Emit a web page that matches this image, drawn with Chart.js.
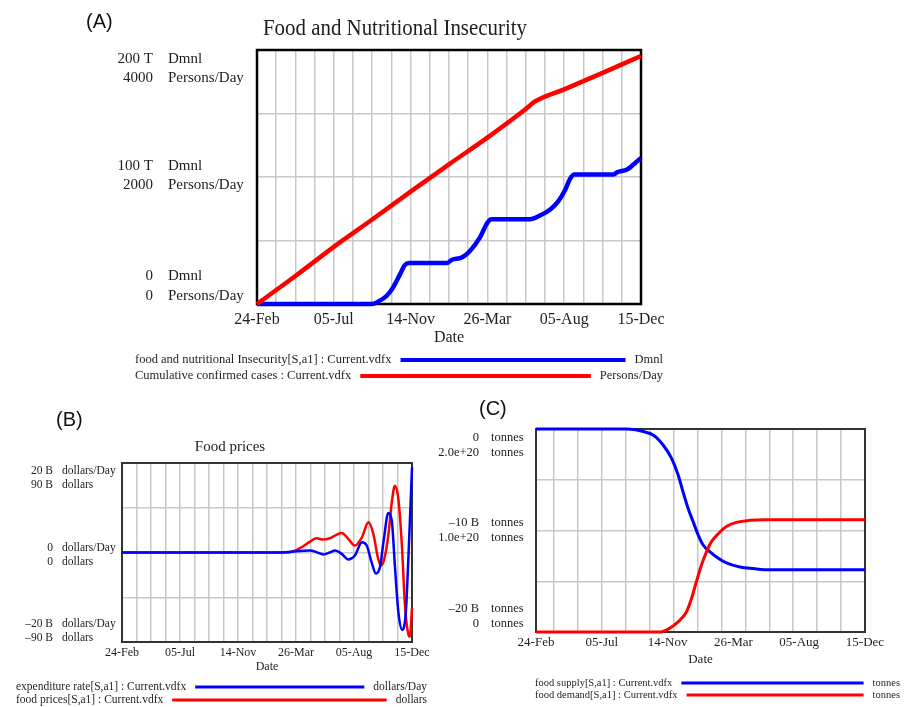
<!DOCTYPE html>
<html><head><meta charset="utf-8">
<script src="https://cdn.jsdelivr.net/npm/chart.js@4.4.1/dist/chart.umd.min.js"></script>
<style>
html,body{margin:0;padding:0;background:#fff;}
body{width:904px;height:707px;position:relative;overflow:hidden;}
canvas{position:absolute;}
.lbl{position:absolute;font-family:"Liberation Sans",Arial,sans-serif;font-size:20px;line-height:20px;color:#111;}
</style></head><body>
<canvas id="cA" width="904" height="395" style="left:0;top:0"></canvas>
<canvas id="cB" width="450" height="312" style="left:0;top:395px"></canvas>
<canvas id="cC" width="474" height="312" style="left:430px;top:395px"></canvas>
<div class="lbl" style="left:86px;top:11px">(A)</div>
<div class="lbl" style="left:56px;top:409px">(B)</div>
<div class="lbl" style="left:479px;top:398px">(C)</div>
<script>
const SERIF = '"Liberation Serif","Times New Roman",serif';

// ---- shared x axis (days after 24-Feb) ----
const xLabelDays = [0, 132, 264, 396, 528, 660];
const xLabelText = ['24-Feb', '05-Jul', '14-Nov', '26-Mar', '05-Aug', '15-Dec'];

// ---- Panel A: Food and Nutritional Insecurity ----
const aGridDays = [0,33,66,99,132,165,198,231,264,297,330,363,396,429,462,495,528,561,594,627,660];
const aInsecLabel = 'food and nutritional Insecurity[S,a1] : Current.vdfx';
const aInsecUnit = 'Dmnl';
const aInsecDays = [0,197,208,223,234,246,254,262,326,335,352,366,383,396,403,469,487,504,518,530,538,545,613,619,636,647,660];
const aInsecT = [0,0,1.8,6.5,13.1,23.5,30.6,32.2,32.2,34.8,36.6,41.8,52.3,64,66.7,66.7,69.8,74.5,81,90.2,98.5,102,102,103.8,105.9,109.8,115];
const aCasesLabel = 'Cumulative confirmed cases : Current.vdfx';
const aCasesUnit = 'Persons/Day';
const aCasesDays = [0,66,132,198,264,330,396,462,478,528,594,660];
const aCasesValues = [0,440,900,1330,1770,2200,2620,3070,3190,3380,3640,3906];
const aInsecTicks = [200,100,0];
const aCasesTicks = [4000,2000,0];
const aGridInsec = [0,50,100,150,200];

// ---- Panel B: Food prices ----
const bGridDays = [0,33,66,99,132,165,198,231,264,297,330,363,396,429,462,495,528,561,594,627,660];
const bExpLabel = 'expenditure rate[S,a1] : Current.vdfx';
const bExpUnit = 'dollars/Day';
const bExpDays = [0,362,380,397,428,443,458,473,485,500,515,530,546,557,568,578,587,596,606,614,621,629,638,646,652,660];
const bExpBillions = [0,0,0.1,0.3,0.44,0.07,-0.44,0,0.44,-0.3,-1.55,-0.67,2.3,1.55,-2.15,-4.7,-3.3,3.0,8.8,7.1,-2.9,-13.3,-17.3,-13.3,-0.7,19.0];
const bPriceLabel = 'food prices[S,a1] : Current.vdfx';
const bPriceUnit = 'dollars';
const bPriceDays = [0,362,382,409,428,443,458,473,500,515,530,546,561,572,583,589,596,606,614,621,629,637,644,652,655,660];
const bPriceBillions = [0,0,0.3,5.3,11,14.3,13,14.3,19.7,13.7,7,15.3,30.3,18.7,-6.3,-13,-8,17,50.3,67,53.7,7,-53,-83,-84.7,-56];
const bExpTicks = [20,0,-20];
const bPriceTicks = [90,0,-90];
const bGridExp = [-20,-10,0,10,20];

// ---- Panel C: food supply / demand ----
const cGridDays = [0,36,84,132,180,228,276,324,372,420,468,516,564,612,660];
const cSupplyLabel = 'food supply[S,a1] : Current.vdfx';
const cSupplyUnit = 'tonnes';
const cSupplyDays = [0,180,200,215,235,255,272,285,295,305,315,325,335,349,365,382,409,436,470,660];
const cSupplyBillions = [0,0,-0.08,-0.25,-0.59,-1.58,-2.9,-4.5,-6.2,-7.8,-9.1,-10.4,-11.4,-12.1,-12.7,-13.2,-13.6,-13.75,-13.87,-13.87];
const cDemandLabel = 'food demand[S,a1] : Current.vdfx';
const cDemandUnit = 'tonnes';
const cDemandDays = [0,250,269,285,302,312,322,332,342,352,366,382,402,429,460,660];
const cDemandE20 = [0,0,0.04,0.1,0.2,0.33,0.5,0.66,0.79,0.89,0.97,1.04,1.08,1.10,1.105,1.105];
const cSupplyTicks = [0,-10,-20];
const cDemandTicks = [2,1,0];
const cGridSupply = [-20,-15,-10,-5,0];

const BLUE = '#0000ff', RED = '#ff0000', TXT = '#1e1e1e';

function signed(v){ return v < 0 ? '\u2013' + (-v) : String(v); }

const PANEL = {
  cA: {
    frameColor:'#000', frameWidth:2.5,
    title:{text:'Food and Nutritional Insecurity', x:395, y:29, font:'23px '+SERIF, maxWidth:264},
    y:{ticks1:aInsecTicks, ticks2:aCasesTicks, fmt1:v=>v===0?'0':v+' T', fmt2:v=>String(v),
       unit1:aInsecUnit, unit2:aCasesUnit, numRight:153, unitLeft:168, font:'15px '+SERIF,
       spacing:19.5, topOff:9, midOff:-11, botOff:8},
    legend:{rows:[360,376], units:[aInsecUnit,aCasesUnit], textLeft:135, unitRight:663, font:'12.5px '+SERIF, gap:9, lineWidth:4}
  },
  cB: {
    frameColor:'#333', frameWidth:2,
    title:{text:'Food prices', x:230, y:52, font:'15px '+SERIF, maxWidth:200},
    y:{ticks1:bExpTicks, ticks2:bPriceTicks, fmt1:v=>v===0?'0':signed(v)+' B', fmt2:v=>v===0?'0':signed(v)+' B',
       unit1:bExpUnit, unit2:bPriceUnit, numRight:53, unitLeft:62, font:'11.5px '+SERIF,
       spacing:14, topOff:8, midOff:-5, botOff:4},
    legend:{rows:[292,305], units:[bExpUnit,bPriceUnit], textLeft:16, unitRight:427, font:'11.5px '+SERIF, gap:9, lineWidth:3}
  },
  cC: {
    frameColor:'#333', frameWidth:2,
    title:null,
    y:{ticks1:cSupplyTicks, ticks2:cDemandTicks, fmt1:v=>v===0?'0':signed(v)+' B', fmt2:v=>v===0?'0':v.toFixed(1)+'e+20',
       unit1:cSupplyUnit, unit2:cDemandUnit, numRight:49, unitLeft:61, font:'12.5px '+SERIF,
       spacing:15, topOff:9, midOff:-7.5, botOff:8},
    legend:{rows:[288,300], units:[cSupplyUnit,cDemandUnit], textLeft:105, unitRight:470, font:'10.5px '+SERIF, gap:9, lineWidth:3}
  }
};

const vensimPlugin = {
  id:'vensim',
  beforeDatasetsDraw(chart){
    const P = PANEL[chart.canvas.id], a = chart.chartArea, c = chart.ctx;
    c.save(); c.strokeStyle = P.frameColor; c.lineWidth = P.frameWidth;
    c.strokeRect(a.left, a.top, a.right-a.left, a.bottom-a.top); c.restore();
  },
  afterDraw(chart){
    const P = PANEL[chart.canvas.id], c = chart.ctx;
    c.save(); c.fillStyle = TXT; c.textBaseline = 'middle';
    if (P.title){ c.font = P.title.font; c.textAlign = 'center'; c.fillText(P.title.text, P.title.x, P.title.y, P.title.maxWidth); }
    const L = P.y, s1 = chart.scales.y;
    c.font = L.font;
    L.ticks1.forEach((v,i)=>{
      const p = s1.getPixelForValue(v);
      let y1;
      if (v === s1.max) y1 = p + L.topOff;
      else if (v === s1.min) y1 = p - L.botOff - L.spacing;
      else y1 = p + L.midOff;
      const y2 = y1 + L.spacing;
      c.textAlign = 'right';
      c.fillText(L.fmt1(v), L.numRight, y1);
      c.fillText(L.fmt2(L.ticks2[i]), L.numRight, y2);
      c.textAlign = 'left';
      c.fillText(L.unit1, L.unitLeft, y1);
      c.fillText(L.unit2, L.unitLeft, y2);
    });
    const G = P.legend;
    c.font = G.font;
    chart.data.datasets.forEach((d,i)=>{
      const y = G.rows[i];
      c.textAlign = 'left'; c.fillText(d.label, G.textLeft, y);
      const tw = c.measureText(d.label).width;
      c.textAlign = 'right'; c.fillText(G.units[i], G.unitRight, y);
      const uw = c.measureText(G.units[i]).width;
      c.strokeStyle = d.borderColor; c.lineWidth = G.lineWidth;
      c.beginPath(); c.moveTo(G.textLeft + tw + G.gap, y); c.lineTo(G.unitRight - uw - G.gap, y); c.stroke();
    });
    c.restore();
  }
};

function series(label, days, values, color, axis, width, order){
  return {label, data: days.map((x,i)=>({x, y: values[i]})), yAxisID: axis,
    borderColor: color, backgroundColor: color, borderWidth: width, pointRadius: 0,
    fill: false, cubicInterpolationMode: 'monotone', clip: 8, order};
}

function makeChart(id, o){
  const xTicks = Array.from(new Set(o.gridDays.concat(xLabelDays))).sort((a,b)=>a-b);
  return new Chart(document.getElementById(id), {
    type:'line',
    data:{datasets:o.datasets},
    options:{
      responsive:false, animation:false, events:[], devicePixelRatio:1,
      layout:{padding:o.padding},
      plugins:{legend:{display:false}, title:{display:false}, tooltip:{enabled:false}},
      scales:{
        x:{type:'linear', min:0, max:660, position:'bottom',
           afterBuildTicks:s=>{ s.ticks = xTicks.map(v=>({value:v})); },
           afterFit:s=>{ s.height = o.xAxisHeight; },
           grid:{color:c=> (c.tick && o.gridDays.includes(c.tick.value)) ? '#c8c8c8' : 'rgba(0,0,0,0)', lineWidth:1.5, drawTicks:false},
           border:{display:false},
           ticks:{autoSkip:false, maxRotation:0, padding:o.xTickPad, color:TXT, font:{family:SERIF, size:o.xFont},
                  callback:v=>{ const k = xLabelDays.indexOf(v); return k>=0 ? xLabelText[k] : ''; }},
           title:{display:true, text:'Date', color:TXT, font:{family:SERIF, size:o.xFont}, padding:{top:0, bottom:o.datePad}}},
        y:{type:'linear', min:o.y1min, max:o.y1max, position:'left',
           afterBuildTicks:s=>{ s.ticks = o.gridY.map(v=>({value:v})); },
           afterFit:s=>{ s.width = o.yAxisWidth; },
           grid:{color:'#c8c8c8', lineWidth:1.5, drawTicks:false},
           border:{display:false}, ticks:{display:false}},
        y2:{type:'linear', min:o.y2min, max:o.y2max, display:false}
      }
    },
    plugins:[vensimPlugin]
  });
}

makeChart('cA', {
  gridDays:aGridDays, gridY:aGridInsec, y1min:0, y1max:200, y2min:0, y2max:4000,
  padding:{left:0, right:263, top:50, bottom:46}, yAxisWidth:257, xAxisHeight:45,
  xTickPad:6, xFont:16, datePad:2,
  datasets:[ series(aInsecLabel, aInsecDays, aInsecT, BLUE, 'y', 4.5, 1),
             series(aCasesLabel, aCasesDays, aCasesValues, RED, 'y2', 4.5, 0) ]
});

makeChart('cB', {
  gridDays:bGridDays, gridY:bGridExp, y1min:-20, y1max:20, y2min:-90, y2max:90,
  padding:{left:0, right:38, top:68, bottom:33}, yAxisWidth:122, xAxisHeight:32,
  xTickPad:4, xFont:12, datePad:0,
  datasets:[ series(bExpLabel, bExpDays, bExpBillions, BLUE, 'y', 2.5, 0),
             series(bPriceLabel, bPriceDays, bPriceBillions, RED, 'y2', 2.5, 1) ]
});

makeChart('cC', {
  gridDays:cGridDays, gridY:cGridSupply, y1min:-20, y1max:0, y2min:0, y2max:2,
  padding:{left:0, right:39, top:34, bottom:40}, yAxisWidth:106, xAxisHeight:35,
  xTickPad:3, xFont:13, datePad:0,
  datasets:[ series(cSupplyLabel, cSupplyDays, cSupplyBillions, BLUE, 'y', 3, 1),
             series(cDemandLabel, cDemandDays, cDemandE20, RED, 'y2', 3, 0) ]
});
</script>
</body></html>
